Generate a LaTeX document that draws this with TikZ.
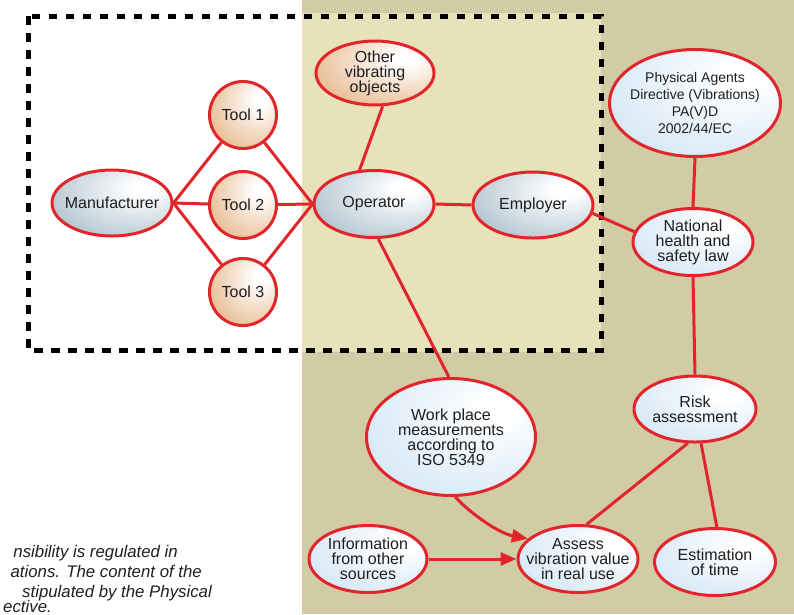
\documentclass[tikz,border=0pt]{standalone}
\usepackage{fontspec}
\setmainfont{Liberation Sans}
\usetikzlibrary{shapes.geometric,arrows.meta}
\definecolor{lr}{RGB}{226,37,42}
\definecolor{tanbg}{RGB}{209,203,166}
\definecolor{lightbg}{RGB}{232,226,187}
\definecolor{bgrey}{RGB}{150,175,191}
\definecolor{lblue}{RGB}{198,223,243}
\definecolor{orng}{RGB}{223,162,104}
\definecolor{txt}{RGB}{30,30,30}
\pgfdeclareradialshading{shgrey}{\pgfpoint{14bp}{12bp}}{color(0bp)=(white);color(5bp)=(white);color(50bp)=(bgrey);color(100bp)=(bgrey)}
\pgfdeclareradialshading{shblue}{\pgfpoint{14bp}{12bp}}{color(0bp)=(white);color(5bp)=(white);color(50bp)=(lblue);color(100bp)=(lblue)}
\pgfdeclareradialshading{shorng}{\pgfpoint{14bp}{12bp}}{color(0bp)=(white);color(5bp)=(white);color(50bp)=(orng);color(100bp)=(orng)}
\tikzset{
  bub/.style={ellipse, draw=lr, line width=3pt, inner sep=-20pt, align=center, text=txt,
    font=\fontsize{16}{15}\selectfont},
  greyb/.style={bub, shading=shgrey},
  blueb/.style={bub, shading=shblue},
  orngb/.style={bub, shading=shorng},
  toolb/.style={circle, draw=lr, line width=3pt, inner sep=-20pt, minimum size=67pt,
    shading=shorng, text=txt, font=\fontsize{16}{15}\selectfont},
  edge/.style={draw=lr, line width=3pt},
  arr/.style={edge, -{Triangle[length=16pt,width=13pt]}},
  itx/.style={inner sep=0pt, text=txt, font=\fontsize{16.8}{20}\selectfont\itshape},
}
\begin{document}
\begin{tikzpicture}[x=1pt,y=-1pt]
\useasboundingbox (0,0) rectangle (794,614);
\clip (0,0) rectangle (794,614);
\fill[tanbg] (302,0) rectangle (794,614);
\fill[lightbg] (302,13) rectangle (601,352);
\draw[black, line width=5pt, dash pattern=on 8.5pt off 8.5pt] (28,16) rectangle (601,350);

\node[greyb, minimum width=120pt, minimum height=66pt] (man) at (112,203) {Manufacturer};
\node[toolb] (t1) at (243,115) {Tool 1};
\node[toolb] (t2) at (243,205) {Tool 2};
\node[toolb] (t3) at (243,292) {Tool 3};
\node[greyb, minimum width=120pt, minimum height=67pt] (op) at (374,204) {Operator};
\node[greyb, minimum width=120pt, minimum height=66pt] (emp) at (533,205) {Employer};
\node[orngb, minimum width=118pt, minimum height=64pt] (oth) at (375,73) {Other\\vibrating\\objects};
\node[blueb, minimum width=171pt, minimum height=107pt, font=\fontsize{14}{16.7}\selectfont] (pavd) at (695,103) {Physical Agents\\Directive (Vibrations)\\PA(V)D\\2002/44/EC};
\node[blueb, minimum width=120pt, minimum height=67pt] (nat) at (693,242) {National\\health and\\safety law};
\node[blueb, minimum width=169pt, minimum height=117pt] (work) at (451,437) {Work place\\measurements\\according to\\ISO 5349};
\node[blueb, minimum width=122pt, minimum height=66pt] (risk) at (695,409) {Risk\\assessment};
\node[blueb, minimum width=118pt, minimum height=67pt] (info) at (368,559) {Information\\from other\\sources};
\node[blueb, minimum width=120pt, minimum height=67pt] (assess) at (578,559) {Assess\\vibration value\\in real use};
\node[blueb, minimum width=121pt, minimum height=67pt] (est) at (715,562) {Estimation\\of time};

\draw[edge] (man.east) -- (t1);
\draw[edge] (man.east) -- (t2);
\draw[edge] (man.east) -- (t3);
\draw[edge] (t1) -- (op.west);
\draw[edge] (t2) -- (op.west);
\draw[edge] (t3) -- (op.west);
\draw[edge] (op.113) -- (oth.283);
\draw[edge] (op.east) -- (emp.west);
\draw[edge] (op.277) -- (work.92);
\draw[edge] (emp.-8) -- (nat.170);
\draw[edge] (pavd.south) -- (nat.north);
\draw[edge] (nat.south) -- (risk.north);
\draw[edge] (assess.76) -- (risk.258);
\draw[edge] (risk.280) -- (est.87);
\draw[arr] (info.east) -- (assess.west);
\draw[arr] (work.274) .. controls (470,513) and (498,533) .. (assess.158);

\node[itx, anchor=base east] (c1) at (178,557) {nsibility is regulated in};
\node[itx, anchor=base east] (c2) at (202,577) {ations. The content of the};
\node[itx, anchor=base east] (c3) at (212,597) {stipulated by the Physical};
\node[itx, anchor=base east] (c4) at (52,612) {ective.};
\end{tikzpicture}
\end{document}
